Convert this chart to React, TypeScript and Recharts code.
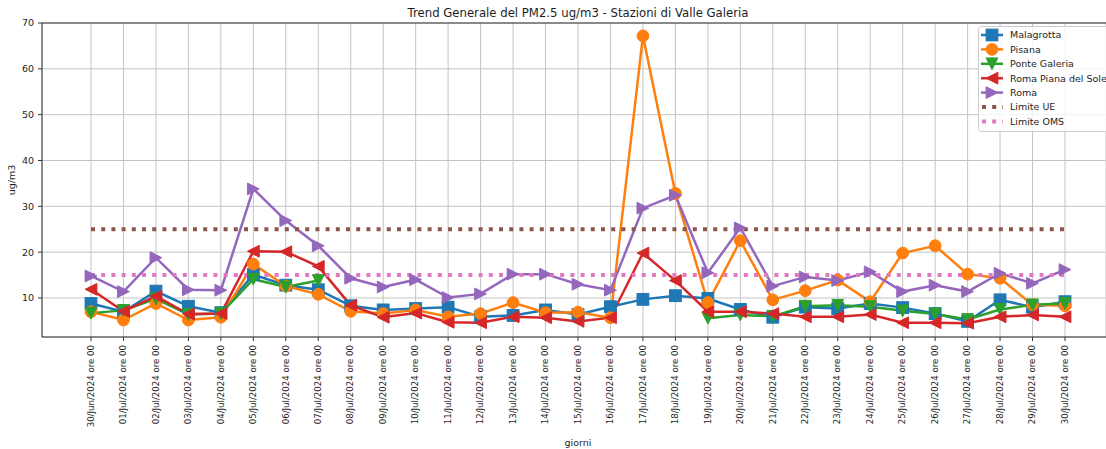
import React from 'react';
import { LineChart, Line, XAxis, YAxis, CartesianGrid, Legend, ReferenceLine } from 'recharts';

const categories = [
  '30/Jun/2024 ore 00', '01/Jul/2024 ore 00', '02/Jul/2024 ore 00', '03/Jul/2024 ore 00',
  '04/Jul/2024 ore 00', '05/Jul/2024 ore 00', '06/Jul/2024 ore 00', '07/Jul/2024 ore 00',
  '08/Jul/2024 ore 00', '09/Jul/2024 ore 00', '10/Jul/2024 ore 00', '11/Jul/2024 ore 00',
  '12/Jul/2024 ore 00', '13/Jul/2024 ore 00', '14/Jul/2024 ore 00', '15/Jul/2024 ore 00',
  '16/Jul/2024 ore 00', '17/Jul/2024 ore 00', '18/Jul/2024 ore 00', '19/Jul/2024 ore 00',
  '20/Jul/2024 ore 00', '21/Jul/2024 ore 00', '22/Jul/2024 ore 00', '23/Jul/2024 ore 00',
  '24/Jul/2024 ore 00', '25/Jul/2024 ore 00', '26/Jul/2024 ore 00', '27/Jul/2024 ore 00',
  '28/Jul/2024 ore 00', '29/Jul/2024 ore 00', '30/Jul/2024 ore 00',
];

const malagrotta = [8.8, 7.0, 11.5, 8.2, 6.8, 15.1, 12.8, 11.8, 8.3, 7.4, 7.7, 8.0, 5.9, 6.2, 7.4, 6.4, 8.1, 9.7, 10.5, 9.9, 7.5, 5.8, 8.0, 7.7, 8.8, 7.9, 6.6, 4.9, 9.6, 8.0, 9.2];
const pisana = [7.0, 5.2, 8.8, 5.2, 5.8, 17.4, 12.6, 10.8, 7.1, 6.6, 7.4, 5.9, 6.6, 9.0, 6.8, 6.9, 5.7, 67.2, 32.8, 9.0, 22.5, 9.6, 11.6, 13.9, 9.2, 19.8, 21.4, 15.2, 14.3, 8.5, 8.3];
const ponteGaleria = [6.7, 7.3, 9.8, 6.4, 6.6, 14.1, 12.4, 13.8, null, null, null, null, null, null, null, null, null, null, null, 5.6, 6.3, 6.0, 8.2, 8.4, 8.1, 7.2, 6.5, 5.3, 7.5, 8.5, 8.8];
const romaPianaDelSole = [11.9, 7.1, 10.4, 6.5, 6.6, 20.2, 20.1, 16.9, 8.4, 5.8, 6.7, 4.7, 4.6, 5.9, 5.7, 4.9, 5.7, 19.8, 13.8, 7.0, 7.0, 6.6, 5.9, 5.9, 6.4, 4.6, 4.6, 4.5, 5.9, 6.3, 5.9];
const roma = [14.8, 11.4, 18.8, 11.8, 11.7, 33.8, 26.9, 21.4, 14.3, 12.4, 14.0, 10.1, 10.9, 15.2, 15.2, 13.0, 11.7, 29.6, 32.4, 15.5, 25.3, 12.6, 14.6, 13.8, 15.7, 11.4, 12.8, 11.4, 15.4, 13.2, 16.2];
const limiteUE = 25;
const limiteOMS = 15;

const yTicks = [10, 20, 30, 40, 50, 60, 70];
const xTicks = categories.map((_, i) => i);

const data = categories.map((label, i) => ({
  i,
  label,
  Malagrotta: malagrotta[i],
  Pisana: pisana[i],
  'Ponte Galeria': ponteGaleria[i],
  'Roma Piana del Sole': romaPianaDelSole[i],
  Roma: roma[i],
  'Limite UE': limiteUE,
  'Limite OMS': limiteOMS,
}));

const FONT = '"DejaVu Sans", sans-serif';
const TXT = '#1e1e1e';

type Shape = 'square' | 'circle' | 'down' | 'left' | 'right';

const series: { key: string; color: string; shape: Shape }[] = [
  { key: 'Malagrotta', color: '#1f77b4', shape: 'square' },
  { key: 'Pisana', color: '#ff7f0e', shape: 'circle' },
  { key: 'Ponte Galeria', color: '#2ca02c', shape: 'down' },
  { key: 'Roma Piana del Sole', color: '#d62728', shape: 'left' },
  { key: 'Roma', color: '#9467bd', shape: 'right' },
];
const limits = [
  { key: 'Limite UE', color: '#8c564b' },
  { key: 'Limite OMS', color: '#e377c2' },
];

function Marker({ shape, cx, cy, color, h = 5.9 }: { shape: Shape; cx: number; cy: number; color: string; h?: number }) {
  const common = { fill: color, stroke: color, strokeWidth: 1 };
  switch (shape) {
    case 'square':
      return <rect x={cx - h} y={cy - h} width={2 * h} height={2 * h} {...common} />;
    case 'circle':
      return <circle cx={cx} cy={cy} r={h} {...common} />;
    case 'down':
      return <polygon points={`${cx - h},${cy - h} ${cx + h},${cy - h} ${cx},${cy + h}`} {...common} />;
    case 'left':
      return <polygon points={`${cx + h},${cy - h} ${cx + h},${cy + h} ${cx - h},${cy}`} {...common} />;
    case 'right':
      return <polygon points={`${cx - h},${cy - h} ${cx - h},${cy + h} ${cx + h},${cy}`} {...common} />;
  }
  return null;
}

const makeDot = (shape: Shape, color: string) => (props: any) => {
  const { cx, cy, index, value } = props;
  if (cx == null || cy == null || value == null || Number.isNaN(cy)) return <g key={`d-${index}`} />;
  return (
    <g key={`d-${index}`}>
      <Marker shape={shape} cx={cx} cy={cy} color={color} />
    </g>
  );
};

const XTick = (props: any) => {
  const { x, y, payload } = props;
  return (
    <text
      x={x}
      y={y}
      dy="0.32em"
      transform={`rotate(-90 ${x} ${y})`}
      textAnchor="end"
      fontSize={8.6}
      fill={TXT}
      fontFamily={FONT}
    >
      {categories[payload.value]}
    </text>
  );
};

const LegendBox = () => {
  const rowY = (k: number) => 9 + k * 14.4;
  return (
    <svg width={150} height={110} style={{ display: 'block' }}>
      <rect x={0.5} y={0.5} width={145} height={105} rx={3} ry={3} fill="rgba(255,255,255,0.8)" stroke="#cccccc" strokeWidth={1} />
      {series.map((s, k) => (
        <g key={s.key}>
          <line x1={3} x2={25} y1={rowY(k)} y2={rowY(k)} stroke={s.color} strokeWidth={2.5} />
          <Marker shape={s.shape} cx={14} cy={rowY(k)} color={s.color} />
          <text x={32} y={rowY(k)} dy="0.35em" fontSize={9.5} fill={TXT} fontFamily={FONT}>{s.key}</text>
        </g>
      ))}
      {limits.map((l, j) => {
        const k = series.length + j;
        return (
          <g key={l.key}>
            <line x1={4} x2={25} y1={rowY(k)} y2={rowY(k)} stroke={l.color} strokeWidth={4} strokeDasharray="4 6.2" />
            <text x={32} y={rowY(k)} dy="0.35em" fontSize={9.5} fill={TXT} fontFamily={FONT}>{l.key}</text>
          </g>
        );
      })}
    </svg>
  );
};

export default function App() {
  return (
    <div style={{ position: 'fixed', left: 0, top: 0, width: 1106, height: 449, overflow: 'hidden', background: '#fff' }}>
      <LineChart width={1106} height={449} data={data} margin={{ top: 23, right: 0, bottom: 0, left: 0 }}>
        <CartesianGrid stroke="#c4c4c4" strokeWidth={1} />
        <XAxis
          dataKey="i"
          type="number"
          domain={[-1.5093, 31.263]}
          allowDataOverflow
          ticks={xTicks}
          interval={0}
          height={112}
          tickSize={4}
          tickMargin={4}
          tick={<XTick />}
          stroke="#333"
          tickLine={{ stroke: '#333' }}
          axisLine={{ stroke: '#333' }}
          label={{
            content: () => (
              <text x={578} y={446} textAnchor="middle" fontSize={9.5} fill={TXT} fontFamily={FONT}>giorni</text>
            ),
          }}
        />
        <YAxis
          type="number"
          domain={[1.49, 70]}
          allowDataOverflow
          ticks={yTicks}
          interval={0}
          width={42}
          tickSize={4}
          tickMargin={4}
          tick={{ fontSize: 9.5, fill: TXT, fontFamily: FONT }}
          tickLine={{ stroke: '#333' }}
          axisLine={{ stroke: '#333' }}
          label={{
            content: () => (
              <text x={14.5} y={180} transform="rotate(-90 14.5 180)" textAnchor="middle" fontSize={9.5} fill={TXT} fontFamily={FONT}>ug/m3</text>
            ),
          }}
        />
        <ReferenceLine y={70} stroke="#333" strokeWidth={1} />
        {series.map((s) => (
          <Line
            key={s.key}
            type="linear"
            dataKey={s.key}
            stroke={s.color}
            strokeWidth={2.5}
            dot={makeDot(s.shape, s.color)}
            activeDot={false}
            isAnimationActive={false}
          />
        ))}
        {limits.map((l) => (
          <Line
            key={l.key}
            type="linear"
            dataKey={l.key}
            stroke={l.color}
            strokeWidth={4}
            strokeDasharray="4 6.2"
            dot={false}
            activeDot={false}
            isAnimationActive={false}
          />
        ))}
        <Legend
          layout="vertical"
          align="center"
          verticalAlign="middle"
          wrapperStyle={{ left: 978, top: 26, width: 150, height: 110 }}
          content={() => <LegendBox />}
        />
      </LineChart>
      <svg width={1106} height={30} style={{ position: 'absolute', left: 0, top: 0, pointerEvents: 'none' }}>
        <text x={578} y={16.7} textAnchor="middle" fontSize={11.7} fill={TXT} fontFamily={FONT}>
          Trend Generale del PM2.5 ug/m3 - Stazioni di Valle Galeria
        </text>
      </svg>
    </div>
  );
}
